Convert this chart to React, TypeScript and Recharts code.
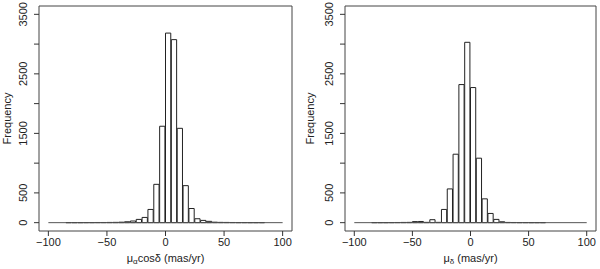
import { BarChart, Bar, XAxis, YAxis, ReferenceArea, ReferenceLine, Label } from 'recharts'

// bin lower edges, 5 mas/yr wide, -100 .. 95
const binStarts = [
  -100, -95, -90, -85, -80, -75, -70, -65, -60, -55,
  -50, -45, -40, -35, -30, -25, -20, -15, -10, -5,
  0, 5, 10, 15, 20, 25, 30, 35, 40, 45,
  50, 55, 60, 65, 70, 75, 80, 85, 90, 95,
]

// mu_alpha cos(delta)
const countsRA = [
  0, 0, 0, 1, 1, 1, 2, 2, 3, 3,
  4, 5, 8, 15, 28, 55, 88, 222, 644, 1620,
  3185, 3075, 1585, 622, 238, 66, 38, 22, 8, 5,
  4, 3, 2, 2, 1, 1, 1, 0, 0, 0,
]

// mu_delta
const countsDec = [
  0, 0, 0, 1, 1, 1, 2, 3, 4, 5,
  18, 20, 5, 50, 5, 222, 567, 1150, 2320, 3030,
  2270, 1083, 400, 155, 55, 15, 4, 3, 2, 2,
  1, 1, 1, 0, 0, 0, 0, 0, 0, 0,
]

const xTicks = [-100, -50, 0, 50, 100]
const yTicks = [0, 500, 1000, 1500, 2000, 2500, 3000, 3500]
const yLabeled = [0, 500, 1500, 2500, 3500]

const FONT = '"Liberation Sans", Arial, sans-serif'
const W = 300
const H = 269

function XTick(props: any) {
  const { x, y, payload } = props
  const v = payload.value
  return (
    <text x={x} y={y + 8} textAnchor="middle" fontSize={11} fontFamily={FONT} fill="#222">
      {v < 0 ? `\u2212${-v}` : v}
    </text>
  )
}

function Hist({ counts, left, right, sub, labelX }: { counts: number[]; left: number; right: number; sub: string; labelX: number }) {
  const data = binStarts.map((s, i) => ({ mid: s + 2.5, count: counts[i] }))
  const plotW = W - left - right
  const barW = (5 * plotW) / 216
  const tx = left - 12

  const yTick = (props: any) => {
    const { y, payload } = props
    if (!yLabeled.includes(payload.value)) return <g />
    return (
      <text
        x={tx}
        y={y}
        transform={`rotate(-90 ${tx} ${y})`}
        textAnchor="middle"
        fontSize={11}
        fontFamily={FONT}
        fill="#222"
      >
        {payload.value}
      </text>
    )
  }

  return (
    <BarChart
      width={W}
      height={H}
      data={data}
      margin={{ top: 6, right, bottom: 0, left: 0 }}
      barCategoryGap={0}
    >
      <XAxis
        dataKey="mid"
        type="number"
        domain={[-108, 108]}
        ticks={xTicks}
        allowDataOverflow
        axisLine={false}
        tickLine={{ stroke: '#333' }}
        tickSize={5}
        tick={<XTick />}
        height={H - 231}
      >
        <Label
          content={(p: any) => {
            const vb = p.viewBox
            return (
              <text x={vb.x + vb.width / 2} y={262} textAnchor="middle" fontSize={11} fontFamily={FONT} fill="#222">
                μ<tspan fontSize={8} dy={2}>{sub}</tspan>
                <tspan dy={-2}>{sub === 'α' ? 'cosδ (mas/yr)' : ' (mas/yr)'}</tspan>
              </text>
            )
          }}
        />
      </XAxis>
      <YAxis
        type="number"
        domain={[-140, 3640]}
        ticks={yTicks}
        allowDataOverflow
        axisLine={false}
        tickLine={{ stroke: '#333' }}
        tickSize={5}
        tick={yTick}
        width={left}
      >
        <Label
          content={(p: any) => {
            const vb = p.viewBox
            const cy = vb.y + vb.height / 2
            return (
              <text x={labelX} y={cy} transform={`rotate(-90 ${labelX} ${cy})`} textAnchor="middle" fontSize={11} fontFamily={FONT} fill="#222">
                Frequency
              </text>
            )
          }}
        />
      </YAxis>
      <ReferenceArea x1={-108} x2={108} y1={-140} y2={3640} fill="none" stroke="#444" strokeWidth={1} ifOverflow="visible" />
      <ReferenceLine segment={[{ x: -100, y: 0 }, { x: 100, y: 0 }]} stroke="#555" strokeWidth={1} />
      <Bar dataKey="count" fill="#fff" stroke="#222" strokeWidth={1} barSize={barW} isAnimationActive={false} />
    </BarChart>
  )
}

export default function App() {
  return (
    <div style={{ position: 'absolute', left: 0, top: 0, width: 600, height: 269, background: '#fff' }}>
      <div style={{ position: 'absolute', left: 0, top: 0 }}>
        <Hist counts={countsRA} left={39} right={8} sub="α" labelX={11} />
      </div>
      <div style={{ position: 'absolute', left: 300, top: 0 }}>
        <Hist counts={countsDec} left={45} right={4} sub="δ" labelX={14} />
      </div>
    </div>
  )
}
